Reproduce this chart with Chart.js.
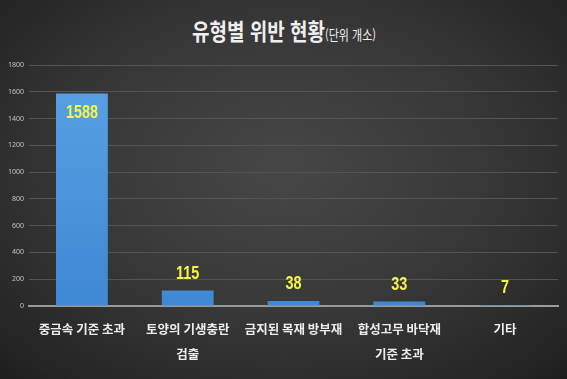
<!DOCTYPE html>
<html lang="ko">
<head>
<meta charset="utf-8">
<script src="https://cdn.jsdelivr.net/npm/chart.js@4/dist/chart.umd.min.js"></script>
<style>
  html, body { margin: 0; padding: 0; }
  body {
    width: 567px; height: 379px; overflow: hidden; position: relative;
    background: radial-gradient(ellipse 75% 80% at 50% 45%, #464646 0%, #393939 45%, #252525 85%, #1a1a1a 100%);
    font-family: "Noto Sans CJK KR", "Noto Sans", sans-serif;
  }
  #title {
    position: absolute; left: 192px; top: 18px;
    color: #eeeeee; white-space: nowrap; line-height: 26px;
    transform: scaleY(1.2); transform-origin: left center;
  }
  #title .main { font-size: 19px; font-weight: 700; letter-spacing: 0; }
  #title .unit { font-size: 11px; font-weight: 400; letter-spacing: 0; }
  #wrap { position: absolute; left: 0; top: 0; width: 567px; height: 379px; }
</style>
</head>
<body>
<div id="title"><span class="main">유형별 위반 현황</span><span class="unit">(단위 개소)</span></div>
<div id="wrap"><canvas id="c" width="567" height="379"></canvas></div>
<script>
// Violation counts by type (unit: sites)
const categories = [
  ['중금속 기준 초과'],
  ['토양의 기생충란', '검출'],
  ['금지된 목재 방부재'],
  ['합성고무 바닥재', '기준 초과'],
  ['기타']
];
const violations = [1588, 115, 38, 33, 7];
const yTicks = [0, 200, 400, 600, 800, 1000, 1200, 1400, 1600, 1800];

// Writes each bar's value above it, or inside the top when the bar is tall
const valueLabels = {
  id: 'valueLabels',
  afterDatasetsDraw(chart) {
    const ctx = chart.ctx;
    const meta = chart.getDatasetMeta(0);
    meta.data.forEach((bar, i) => {
      const v = chart.data.datasets[0].data[i];
      const h = bar.base - bar.y;
      const y = h > 60 ? bar.y + 20 : bar.y - 17;
      ctx.save();
      ctx.font = 'bold 18px "Liberation Sans Narrow", "Liberation Sans", sans-serif';
      ctx.fillStyle = '#f4f545';
      ctx.textAlign = 'center';
      ctx.textBaseline = 'middle';
      ctx.translate(bar.x, y);
      ctx.scale(0.8, 1);
      ctx.fillText(String(v), 0, 0);
      ctx.restore();
    });
  }
};

new Chart(document.getElementById('c'), {
  type: 'bar',
  data: {
    labels: categories,
    datasets: [{
      data: violations,
      categoryPercentage: 1,
      barPercentage: 0.49,
      backgroundColor(context) {
        const area = context.chart.chartArea;
        if (!area) return '#4a90d9';
        const g = context.chart.ctx.createLinearGradient(0, area.top, 0, area.bottom);
        g.addColorStop(0, '#5aa2e4');
        g.addColorStop(1, '#3f88d3');
        return g;
      },
      borderWidth: 0
    }]
  },
  options: {
    responsive: false,
    animation: false,
    devicePixelRatio: 1,
    layout: { padding: { top: 65, right: 9, left: 3, bottom: 1 } },
    plugins: { legend: { display: false }, title: { display: false }, tooltip: { enabled: false } },
    scales: {
      x: {
        grid: { display: false, drawTicks: false },
        border: { display: true, color: '#9a9a9a', width: 2 },
        ticks: {
          color: '#ececec',
          padding: 11,
          maxRotation: 0,
          autoSkip: false,
          font: { family: '"Noto Sans CJK KR", sans-serif', size: 12.5, weight: 'bold', lineHeight: 2.0 }
        }
      },
      y: {
        min: 0, max: 1800,
        afterBuildTicks(axis) { axis.ticks = yTicks.map(v => ({ value: v })); },
        grid: {
          color(ctx) { return ctx.tick && ctx.tick.value === 0 ? 'rgba(0,0,0,0)' : '#545454'; },
          lineWidth: 1,
          drawTicks: false
        },
        border: { display: false },
        ticks: {
          color: '#c4c4c4',
          padding: 5,
          callback: (v) => String(v),
          font: { family: '"Noto Sans", sans-serif', size: 7 }
        }
      }
    }
  },
  plugins: [valueLabels]
});
</script>
</body>
</html>
